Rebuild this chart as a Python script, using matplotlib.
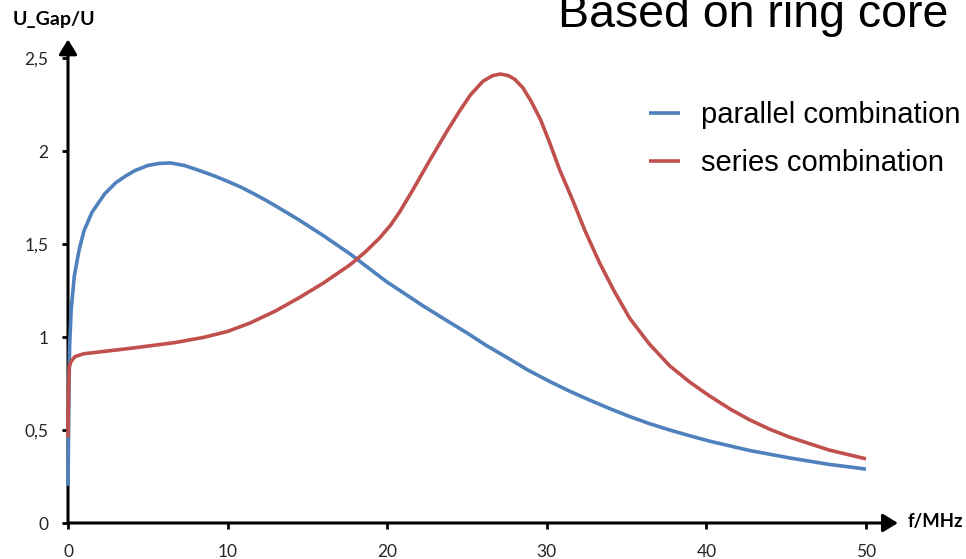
import matplotlib
matplotlib.use("Agg")
import matplotlib.pyplot as plt

# ---- data ----
f_parallel = [0.0, 0.05, 0.1, 0.2, 0.4, 0.7, 1.0, 1.5, 2.3, 3.0, 3.6, 4.2, 5.0, 5.7, 6.4, 7.3, 8.3,
              9.2, 10.0, 10.8, 11.6, 12.4, 13.2, 14.5, 16.0, 17.7, 19.0, 20.0, 20.8, 22.2, 23.7, 25.0,
              26.2, 27.5, 28.8, 30.2, 31.4, 32.7, 34.0, 35.2, 36.4, 37.7, 39.0, 40.2, 42.7,
              45.2, 47.7, 50.0]
parallel = [0.20, 0.60, 0.95, 1.15, 1.33, 1.47, 1.57, 1.67, 1.77, 1.83, 1.865, 1.895, 1.922, 1.933,
            1.936, 1.922, 1.893, 1.865, 1.837, 1.807, 1.772, 1.735, 1.695, 1.628, 1.545, 1.445,
            1.36, 1.295, 1.25, 1.17, 1.09, 1.022, 0.955, 0.89, 0.823, 0.76, 0.71, 0.66, 0.613,
            0.572, 0.535, 0.50, 0.468, 0.44, 0.39, 0.35, 0.315, 0.29]

f_series = [0.0, 0.03, 0.08, 0.2, 0.44, 1.0, 2.0, 4.0, 6.7, 8.5, 10.0, 11.4, 13.0, 14.5, 16.0,
            17.7, 18.6, 19.5, 20.2, 20.8, 21.6, 22.6, 23.7, 24.5, 25.2, 26.0, 26.6, 27.1, 27.6,
            28.0, 28.5, 29.0, 29.6, 30.2, 30.8, 31.6, 32.4, 33.3, 34.2, 35.2, 36.4, 37.7, 39.0,
            40.2, 41.5, 42.7, 44.0, 45.2, 47.7, 50.0]
series = [0.46, 0.70, 0.84, 0.87, 0.895, 0.91, 0.92, 0.94, 0.97, 0.998, 1.03, 1.075, 1.14, 1.212,
          1.29, 1.39, 1.455, 1.53, 1.60, 1.675, 1.79, 1.94, 2.10, 2.21, 2.30, 2.375, 2.405, 2.414,
          2.405, 2.385, 2.34, 2.27, 2.17, 2.04, 1.90, 1.74, 1.57, 1.40, 1.25, 1.10, 0.965, 0.845,
          0.755, 0.683, 0.612, 0.555, 0.503, 0.462, 0.392, 0.345]

x_ticks = [0, 10, 20, 30, 40, 50]
y_ticks = [0, 0.5, 1, 1.5, 2, 2.5]
y_tick_labels = ["0", "0,5", "1", "1,5", "2", "2,5"]
labels = ["parallel combination", "series combination"]
title = "Based on ring core"
x_label = "f/MHz"
y_label = "U_Gap/U"

W, H = 966, 559
fig = plt.figure(figsize=(W / 100, H / 100), dpi=100)
x0_px, y0_px = 68, 523
px_per_f = 15.96
px_per_v = 186.0
xmax, ymax = 52.0, 2.6
ax = fig.add_axes([x0_px / W, (H - y0_px) / H, xmax * px_per_f / W, ymax * px_per_v / H])
ax.set_xlim(0, xmax)
ax.set_ylim(0, ymax)
for s in ax.spines.values():
    s.set_visible(False)

blue = "#4F81BD"
red = "#C0504D"
l1, = ax.plot(f_parallel, parallel, color=blue, lw=2.6, clip_on=False, zorder=5,
              solid_capstyle="butt", solid_joinstyle="round", label=labels[0])
l2, = ax.plot(f_series, series, color=red, lw=2.6, clip_on=False, zorder=5,
              solid_capstyle="butt", solid_joinstyle="round", label=labels[1])

# axes with arrows
arrow_kw = dict(arrowstyle="-|>,head_length=0.9,head_width=0.55", color="black", lw=2.2,
                mutation_scale=10, shrinkA=0, shrinkB=0)
ax.annotate("", xy=(xmax, 0), xytext=(0, 0), arrowprops=arrow_kw, annotation_clip=False, zorder=3)
ax.annotate("", xy=(0, ymax), xytext=(0, 0), arrowprops=arrow_kw, annotation_clip=False, zorder=3)

tick_font = "Lato"
ax.set_xticks(x_ticks)
ax.set_xticklabels([str(t) for t in x_ticks], fontsize=12.5, family=tick_font, color="#262626")
ax.set_yticks(y_ticks)
ax.set_yticklabels(y_tick_labels, fontsize=12.5, family=tick_font, color="#262626")
ax.tick_params(axis="x", direction="out", length=4, width=2, pad=11, color="black")
ax.tick_params(axis="y", direction="out", length=4, width=2, pad=10, color="black")

fig.text(13 / W, 1 - 20 / H, y_label, fontsize=14, fontweight="bold", family=tick_font,
         ha="left", va="center", color="black")
fig.text(908 / W, 1 - 522 / H, x_label, fontsize=13.3, fontweight="bold", family=tick_font,
         ha="left", va="center", color="black")

fig.text(558 / W, 1 - 27 / H, title, fontsize=33.5, family="Liberation Sans",
         ha="left", va="baseline", color="black")

fig.legend(handles=[l1, l2], labels=labels, loc="upper left",
           bbox_to_anchor=(649 / W, 1 - 101 / H), frameon=False, borderpad=0, borderaxespad=0,
           handlelength=1.05, handletextpad=0.74, labelspacing=0.68,
           prop={"family": "Liberation Sans", "size": 21})

fig.savefig("out.png", dpi=100)
